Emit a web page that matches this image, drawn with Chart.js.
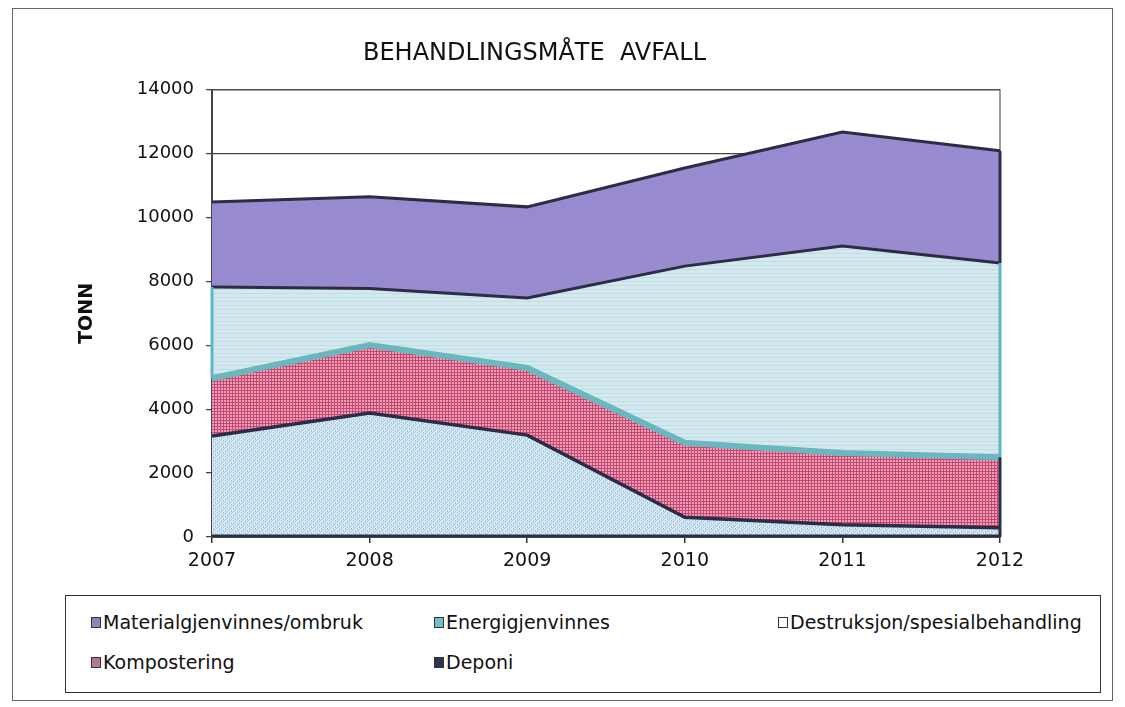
<!DOCTYPE html>
<html><head><meta charset="utf-8">
<script src="https://cdn.jsdelivr.net/npm/chart.js@4.4.0/dist/chart.umd.min.js"></script>
<style>
html,body{margin:0;padding:0;background:#fff;}
body{width:1125px;height:707px;position:relative;overflow:hidden;font-family:"DejaVu Sans","Liberation Sans",Arial,sans-serif;}
#frame{position:absolute;left:12px;top:8px;width:1101px;height:693px;border:1px solid #666;box-sizing:border-box;}
#wrap{position:absolute;left:13px;top:9px;width:1032px;height:580px;}
#legend{position:absolute;left:65px;top:595px;width:1036px;height:98px;border:1.5px solid #333;box-sizing:border-box;}
.li{position:absolute;font-size:19px;color:#111;display:flex;align-items:center;white-space:nowrap;height:22px;transform:translateY(-50%);}
.sw{width:10px;height:11px;border:1.5px solid #333;margin-right:2px;box-sizing:border-box;}
</style></head><body>
<div id="frame"></div>
<div id="wrap"><canvas id="c" width="1032" height="580" style="width:1032px;height:580px"></canvas></div>
<div id="legend"></div>
<script>
const years = ['2007','2008','2009','2010','2011','2012'];
const deponi = [30,30,30,30,30,30];
const destruksjon = [3130,3850,3160,590,350,260];
const kompostering = [1810,2130,2100,2330,2250,2210];
const energigjenvinnes = [2860,1770,2195,5530,6480,6080];
const materialgjenvinnes = [2660,2870,2850,3070,3570,3510];
const yMax = 14000, yStep = 2000;

function pat(size, bg, draw){
  const c=document.createElement('canvas'); c.width=size; c.height=size;
  const g=c.getContext('2d'); g.fillStyle=bg; g.fillRect(0,0,size,size); draw(g);
  return document.getElementById('c').getContext('2d').createPattern(c,'repeat');
}
const pMaterial = pat(6,'#988cd0',g=>{g.fillStyle='#b07fca';g.fillRect(0,0,2,2);g.fillRect(3,3,2,2);g.fillStyle='#8592d4';g.fillRect(3,0,2,2);g.fillRect(0,3,2,2);});
const pEnergi = pat(4,'#d3e9ed',g=>{g.fillStyle='#bfdde4';g.fillRect(0,0,4,1);});
const pKompost = pat(3,'#e8a3b6',g=>{g.fillStyle='#c8466f';g.fillRect(0,0,3,1);g.fillRect(0,0,1,3);});
const pDestr = pat(6,'#dcecf6',g=>{g.fillStyle='#9fc2dc';for(let i=0;i<6;i++){g.fillRect((i+(i%2))%6,5-i,1,1);g.fillRect((i+3)%6,5-i,1,1);}});

const sideColors = ['#2a2f48','#2a2f48','#2a2f48','#5fb8c4','#2a2f48'];

const chart = new Chart(document.getElementById('c'), {
  type:'line',
  data:{labels:years, datasets:[
    {label:'Deponi',data:deponi,fill:'origin',backgroundColor:'#2e3552',borderColor:'#2a2f48',borderWidth:3,pointRadius:0,tension:0},
    {label:'Destruksjon/spesialbehandling',data:destruksjon,fill:'-1',backgroundColor:pDestr,borderColor:'#2c2c48',borderWidth:3.5,pointRadius:0,tension:0},
    {label:'Kompostering',data:kompostering,fill:'-1',backgroundColor:pKompost,borderColor:'#6ab7bf',borderWidth:6,pointRadius:0,tension:0},
    {label:'Energigjenvinnes',data:energigjenvinnes,fill:'-1',backgroundColor:pEnergi,borderColor:'#2c2c44',borderWidth:3,pointRadius:0,tension:0},
    {label:'Materialgjenvinnes/ombruk',data:materialgjenvinnes,fill:'-1',backgroundColor:pMaterial,borderColor:'#2c2c44',borderWidth:3,pointRadius:0,tension:0}
  ]},
  options:{
    responsive:false, animation:false, devicePixelRatio:1,
    layout:{padding:{left:56,right:45,top:0,bottom:0}},
    plugins:{
      legend:{display:false}, tooltip:{enabled:false},
      title:{display:true,text:'BEHANDLINGSMÅTE  AVFALL',color:'#111',font:{family:'DejaVu Sans',size:24,weight:'normal'},padding:{top:30,bottom:22}}
    },
    scales:{
      x:{offset:false, stacked:true,
        grid:{display:true,drawOnChartArea:false,drawTicks:true,tickLength:6,color:'#333',lineWidth:1.5},
        border:{display:true,color:'#2a2f48',width:2},
        ticks:{color:'#111',font:{family:'DejaVu Sans',size:19},padding:7,maxRotation:0,autoSkip:false},
        afterFit:s=>{s.height=52;}
      },
      y:{stacked:true,min:0,max:yMax,
        grid:{color:'#444',lineWidth:1.3,tickLength:6,drawTicks:true},
        border:{display:true,color:'#2a2f48',width:2},
        ticks:{stepSize:yStep,color:'#111',font:{family:'DejaVu Sans',size:18},padding:12,callback:v=>String(v)},
        title:{display:true,text:'TONN',color:'#111',font:{family:'DejaVu Sans',size:19,weight:'bold'},padding:{top:7}},
        afterFit:s=>{s.width=143;}
      }
    }
  },
  plugins:[{
    id:'plotBorder',
    beforeDatasetsDraw(c){const a=c.chartArea,x=c.ctx;x.save();x.strokeStyle='#555';x.lineWidth=1.2;x.strokeRect(a.left,a.top,a.right-a.left,a.bottom-a.top);x.restore();},
    afterDatasetsDraw(c){
      const x=c.ctx, n=c.data.datasets.length, y0=c.scales.y.getPixelForValue(0);
      x.save(); x.lineWidth=3;
      for(let i=0;i<n;i++){
        const pts=c.getDatasetMeta(i).data, prev=i>0?c.getDatasetMeta(i-1).data:null;
        [0,pts.length-1].forEach(j=>{
          const top=pts[j].y, bot=prev?prev[j].y:y0;
          if(i===3 || j===pts.length-1){
            x.strokeStyle=sideColors[i];
            x.beginPath(); x.moveTo(pts[j].x,bot); x.lineTo(pts[j].x,top); x.stroke();
          }
        });
      }
      x.restore();
    }
  }]
});

const items=[
  {t:'Materialgjenvinnes/ombruk',c:'#8e86b8',x:25,y:26},
  {t:'Energigjenvinnes',c:'#6cc0cc',x:368,y:26},
  {t:'Destruksjon/spesialbehandling',c:'#ffffff',x:712,y:26},
  {t:'Kompostering',c:'#b07a8e',x:25,y:66},
  {t:'Deponi',c:'#2e3552',x:368,y:66}
];
const lg=document.getElementById('legend');
items.forEach(it=>{const d=document.createElement('div');d.className='li';d.style.left=it.x+'px';d.style.top=it.y+'px';
  d.innerHTML='<span class="sw" style="background:'+it.c+'"></span><span>'+it.t+'</span>';lg.appendChild(d);});
</script>
</body></html>
